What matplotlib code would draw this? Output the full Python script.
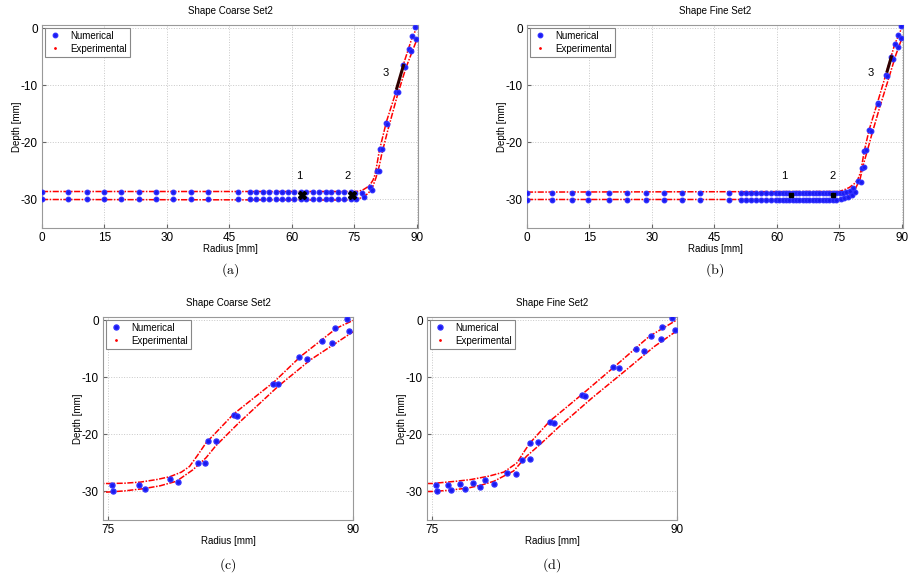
import numpy as np
import matplotlib.pyplot as plt

plt.rcParams['font.family'] = ['Liberation Sans', 'DejaVu Sans']
plt.rcParams['mathtext.fontset'] = 'cm'
plt.rcParams['axes.unicode_minus'] = False

# coarse set: numerical nodes
coarse_flat_x = [0, 6.2, 10.9, 15.0, 19.0, 23.2, 27.4, 31.5, 35.7, 39.9, 47.0, 50.0, 51.5, 53.0,
                 54.6, 56.1, 57.6, 59.0, 60.6, 62.1, 63.5, 65.0, 66.6, 68.1, 69.5, 71.0, 72.6, 74.1]
coarse_flat_up = -28.7
coarse_flat_lo = -30.0
coarse_corner_x = [75.28, 75.3, 76.9, 77.25, 78.8, 79.3, 80.5, 80.95, 81.1, 81.6, 82.7, 82.9,
                   85.1, 85.4, 86.7, 87.2, 88.1, 88.7, 88.9, 89.65, 89.75]
coarse_corner_y = [-28.9, -30.0, -28.8, -29.65, -27.8, -28.4, -25.0, -25.0, -21.1, -21.1, -16.6, -16.8,
                   -11.2, -11.2, -6.5, -6.7, -3.6, -3.9, -1.4, 0.3, -1.9]

# coarse set: experimental profiles
coarse_exp_up_x = [0, 75.0, 76.0, 77.0, 78.0, 78.8, 79.5, 80.0, 80.5, 81.0, 82.7, 85.2, 86.8, 89.0, 90.0]
coarse_exp_up_y = [-28.6, -28.6, -28.55, -28.35, -27.9, -27.4, -26.6, -25.6, -23.6, -21.5, -16.4,
                   -10.7, -6.3, -1.35, 0.0]
coarse_exp_lo_x = [0, 75.0, 76.0, 77.2, 78.2, 79.2, 80.2, 81.0, 81.6, 83.0, 85.4, 87.4, 90.0]
coarse_exp_lo_y = [-30.0, -30.1, -29.9, -29.5, -29.0, -28.2, -26.2, -24.1, -22.0, -18.0, -11.6, -6.9, -2.0]

# fine set: numerical nodes
fine_flat_x = [0, 5.9, 10.8, 14.6, 19.7, 24.1, 28.5, 32.9, 37.3, 41.6, 48.6, 51.5, 52.7, 53.9,
               55.1, 56.3, 57.5, 58.7, 59.8, 60.6, 61.4, 62.2, 63.0, 63.8, 64.6, 65.4, 66.2, 67.0,
               67.8, 68.6, 69.4, 70.2, 71.0, 71.8, 72.6, 73.4, 74.2]
fine_flat_up = -28.8
fine_flat_lo = -30.1
fine_corner_x = [75.26, 75.3, 75.97, 76.15, 76.73, 77.03, 77.5, 77.96, 78.28, 78.83, 79.6, 80.17,
                 80.5, 81.0, 81.0, 81.5, 82.2, 82.5, 84.2, 84.4, 86.1, 86.45, 87.5, 88.0, 88.4,
                 89.0, 89.1, 89.7, 89.9]
fine_corner_y = [-28.8, -30.0, -28.8, -29.8, -28.7, -29.6, -28.5, -29.2, -28.0, -28.6, -26.7, -27.0,
                 -24.5, -24.3, -21.5, -21.4, -17.9, -18.0, -13.1, -13.2, -8.2, -8.3, -5.0, -5.3,
                 -2.8, -3.2, -1.2, 0.35, -1.6]

# fine set: experimental profiles
fine_exp_up_x = [0, 75.0, 76.5, 77.4, 78.5, 79.4, 80.2, 80.6, 81.0, 82.2, 84.3, 86.3, 88.3, 90.0]
fine_exp_up_y = [-28.7, -28.6, -28.2, -27.9, -27.3, -26.6, -25.0, -23.2, -21.5, -17.7, -12.7,
                 -7.8, -2.8, 0.1]
fine_exp_lo_x = [0, 75.0, 76.0, 77.2, 78.0, 78.8, 80.0, 80.8, 81.6, 82.8, 84.8, 86.8, 88.6, 90.0]
fine_exp_lo_y = [-30.0, -30.0, -29.8, -29.4, -28.9, -28.2, -26.4, -23.8, -21.8, -18.6, -13.6,
                 -8.9, -4.6, -1.8]

# probe locations 1, 2, 3
coarse_probe_x = [62.5, 74.5]
coarse_probe_y = [-29.2, -29.2]
coarse_seg_x = [85.2, 86.8]
coarse_seg_y = [-10.5, -6.5]
fine_probe_x = [63.4, 73.4]
fine_probe_y = [-29.3, -29.2]
fine_seg_x = [86.5, 87.5]
fine_seg_y = [-7.5, -5.0]
label_x = [61.8, 73.3, 82.6]
label_y = [-25.8, -25.8, -7.8]
probe_names = ['1', '2', '3']

titles = ['Shape Coarse Set2', 'Shape Fine Set2', 'Shape Coarse Set2', 'Shape Fine Set2']
captions = ['(a)', '(b)', '(c)', '(d)']

W, H = 911, 582
fig = plt.figure(figsize=(W / 100, H / 100), dpi=100)


def px_rect(x0, y0, x1, y1):
    return [x0 / W, 1 - y1 / H, (x1 - x0) / W, (y1 - y0) / H]


rects = [px_rect(42, 25, 418, 228), px_rect(527, 25, 903, 228),
         px_rect(103, 317, 353, 520), px_rect(427, 317, 677, 520)]
cap_pos = [(230, 270), (715, 270), (228, 565), (552, 565)]


def draw(ax, flat_x, fup, flo, cx, cy, eux, euy, elx, ely, zoom):
    fx = np.array(flat_x)
    num_x = np.concatenate([fx, fx, cx])
    num_y = np.concatenate([np.full(len(fx), fup), np.full(len(fx), flo), cy])
    ax.plot(eux, euy, color='red', ls=(0, (4, 1, 1, 1)), lw=1.1, zorder=2)
    ax.plot(elx, ely, color='red', ls=(0, (4, 1, 1, 1)), lw=1.1, zorder=2)
    ax.plot(num_x, num_y, 'o', color='#1a1aee', ms=3.6 if zoom else 3.2, mec='#3030ff', zorder=3,
            label='Numerical')
    ax.plot([], [], '.', color='red', ms=2, label='Experimental')
    if zoom:
        ax.set_xlim(74.7, 90)
        ax.set_xticks([75, 90])
    else:
        ax.set_xlim(0, 90.3)
        ax.set_xticks([0, 15, 30, 45, 60, 75, 90])
    ax.set_ylim(-35, 0.6)
    ax.set_yticks([0, -10, -20, -30])
    ax.grid(True, ls=':', color='#c8c8c8', lw=0.7)
    ax.tick_params(direction='in', labelsize=8.5, length=3, color='#666666', pad=3)
    for s in ax.spines.values():
        s.set_color('#999999')
        s.set_linewidth(0.8)
    ax.set_xlabel('Radius [mm]', fontsize=7, labelpad=0)
    ax.set_ylabel('Depth [mm]', fontsize=7, labelpad=-1)
    leg = ax.legend(loc='upper left', fontsize=7, fancybox=False, framealpha=1,
                    edgecolor='#888888', handlelength=1.5, borderpad=0.3, labelspacing=0.3,
                    borderaxespad=0.3)
    leg.get_frame().set_linewidth(0.8)


sets = [
    (coarse_flat_x, coarse_flat_up, coarse_flat_lo, coarse_corner_x, coarse_corner_y,
     coarse_exp_up_x, coarse_exp_up_y, coarse_exp_lo_x, coarse_exp_lo_y),
    (fine_flat_x, fine_flat_up, fine_flat_lo, fine_corner_x, fine_corner_y,
     fine_exp_up_x, fine_exp_up_y, fine_exp_lo_x, fine_exp_lo_y),
]

for i in range(4):
    ax = fig.add_axes(rects[i])
    draw(ax, *sets[i % 2], zoom=(i >= 2))
    ax.set_title(titles[i], fontsize=7, pad=8)
    if i == 0:
        ax.plot(coarse_seg_x, coarse_seg_y, color='#300000', lw=2.2, zorder=4)
        ax.plot(coarse_probe_x, coarse_probe_y, 'X', color='black', ms=6, zorder=5)
    if i == 1:
        ax.plot(fine_seg_x, fine_seg_y, color='#300000', lw=2.2, zorder=4)
        ax.plot(fine_probe_x, fine_probe_y, 's', color='black', ms=3, zorder=5)
    if i < 2:
        for n, tx, ty in zip(probe_names, label_x, label_y):
            ax.text(tx, ty, n, fontsize=8, ha='center', va='center')
    cx, cy = cap_pos[i]
    fig.text(cx / W, 1 - cy / H, r'$\mathrm{' + captions[i] + '}$', fontsize=10,
             ha='center', va='center')

fig.savefig('out.png', dpi=100)
